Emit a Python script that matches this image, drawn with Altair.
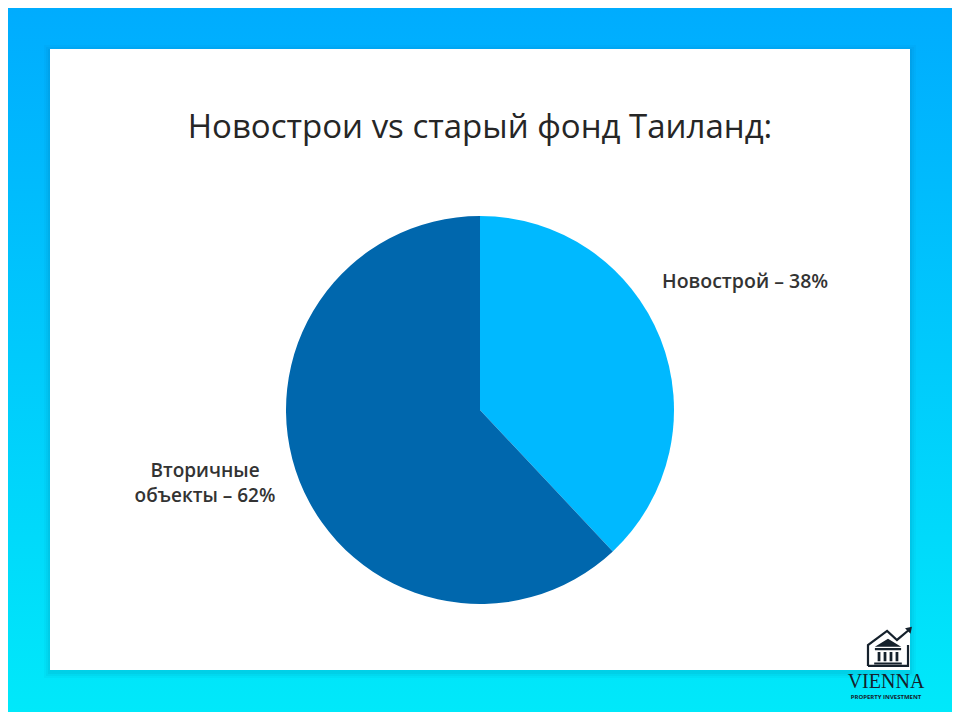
import altair as alt
import pandas as pd

# ---- data ----
categories = ["Новострой", "Вторичные объекты"]
shares = [38, 62]
slice_colors = ["#00b9ff", "#0067ad"]

title_text = "Новострои vs старый фонд Таиланд:"
label_right = ["Новострой – 38%"]
label_left = ["Вторичные", "объекты – 62%"]
logo_name = "VIENNA"
logo_sub = "PROPERTY INVESTMENT"

W, H = 944, 704

pie_df = pd.DataFrame({"cat": categories, "share": shares, "ord": [0, 1]})
one = pd.DataFrame({"a": [0]})

bg = alt.Chart(one).mark_rect(
    color=alt.Gradient(
        gradient="linear",
        stops=[alt.GradientStop(color="#00acfe", offset=0),
               alt.GradientStop(color="#00e9fa", offset=1)],
        x1=0, x2=0, y1=0, y2=1,
    )
).encode(x=alt.value(0), x2=alt.value(W), y=alt.value(0), y2=alt.value(H))

shadows = []
for i, op in [(6, 0.03), (4, 0.04), (2, 0.05)]:
    shadows.append(
        alt.Chart(one).mark_rect(color="#003a6a", opacity=op).encode(
            x=alt.value(42 - i), x2=alt.value(902 + i),
            y=alt.value(41 - i + 2), y2=alt.value(662 + i + 2))
    )

card = alt.Chart(one).mark_rect(color="#ffffff").encode(
    x=alt.value(42), x2=alt.value(902), y=alt.value(41), y2=alt.value(662))

title = alt.Chart(one).mark_text(
    text=title_text, font="Open Sans", fontSize=33, color="#262626",
    align="center", baseline="middle"
).encode(x=alt.value(472), y=alt.value(120))

pie = alt.Chart(pie_df).mark_arc(radius=194).encode(
    theta=alt.Theta("share:Q", stack=True),
    order=alt.Order("ord:Q"),
    color=alt.Color("cat:N", scale=alt.Scale(domain=categories, range=slice_colors), legend=None),
    x=alt.value(472), y=alt.value(402),
)

lab_r = alt.Chart(one).mark_text(
    text=label_right[0], font="Open Sans", fontSize=19.5, fontWeight=600, color="#333333",
    align="left", baseline="middle"
).encode(x=alt.value(654), y=alt.value(274))

lab_l = alt.Chart(one).mark_text(
    text=label_left, font="Open Sans", fontSize=19, fontWeight=600, color="#333333",
    align="center", baseline="middle", lineHeight=25
).encode(x=alt.value(197), y=alt.value(462.5))

outline_path = ("M -0.87 0.78 L -0.87 -0.13 L -0.04 -0.74 L 0.39 -0.35 L 0.88 -0.76 "
                "M 0.87 -0.13 L 0.87 0.78 L -0.87 0.78")
fill_path = ("M 1.04 -0.92 L 0.74 -0.86 L 0.98 -0.62 Z "
             "M -0.57 -0.05 L 0 -0.40 L 0.57 -0.05 Z "
             "M -0.57 0.0 L 0.57 0.0 L 0.57 0.1 L -0.57 0.1 Z "
             "M -0.45 0.17 L -0.33 0.17 L -0.33 0.58 L -0.45 0.58 Z "
             "M -0.19 0.17 L -0.07 0.17 L -0.07 0.58 L -0.19 0.58 Z "
             "M 0.07 0.17 L 0.19 0.17 L 0.19 0.58 L 0.07 0.58 Z "
             "M 0.33 0.17 L 0.45 0.17 L 0.45 0.58 L 0.33 0.58 Z "
             "M -0.6 0.63 L 0.6 0.63 L 0.6 0.72 L -0.6 0.72 Z")

icon_o = alt.Chart(one).mark_point(
    shape=outline_path, filled=False, stroke="#15212c", strokeWidth=2.2, size=2116, opacity=1
).encode(x=alt.value(880), y=alt.value(640))
icon_f = alt.Chart(one).mark_point(
    shape=fill_path, filled=True, fill="#15212c", strokeWidth=0, size=2116, opacity=1
).encode(x=alt.value(880), y=alt.value(640))

vienna = alt.Chart(one).mark_text(
    text=logo_name, font="Liberation Serif", fontSize=20, color="#15212c",
    align="center", baseline="alphabetic"
).encode(x=alt.value(878), y=alt.value(680))
sub = alt.Chart(one).mark_text(
    text=logo_sub, font="Open Sans", fontSize=6, fontWeight=700, color="#15212c",
    align="center", baseline="middle"
).encode(x=alt.value(878), y=alt.value(689))

chart = alt.layer(bg, *shadows, card, title, pie, lab_r, lab_l, icon_o, icon_f, vienna, sub).properties(
    width=W, height=H, padding=0,
    autosize=alt.AutoSizeParams(type="none"),
).configure_view(stroke=None).configure(background="#00acfe")

chart.save("out.html", embed_options={"renderer": "svg", "actions": False})
